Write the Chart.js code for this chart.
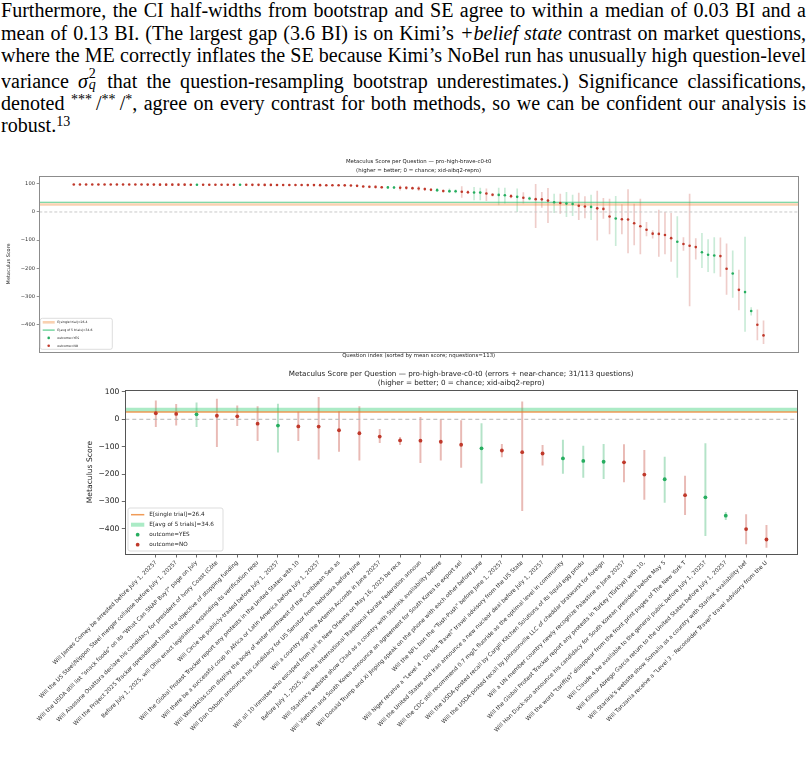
<!DOCTYPE html>
<html>
<head>
<meta charset="utf-8">
<script src="https://cdn.jsdelivr.net/npm/chart.js@4.4.1/dist/chart.umd.min.js"></script>
<style>
html, body { margin: 0; padding: 0; background: #fff; width: 807px; height: 759px; overflow: hidden; position: relative }
#para { position: absolute; left: 1px; top: -1px; width: 805px; transform-origin: 0 0;
        font-family: "Liberation Serif", "Times New Roman", serif; font-size: 20.5px; line-height: 22.5px; color: #000 }
.ln { white-space: nowrap }
.fit .ln { white-space: normal; text-align: justify; text-align-last: justify }
.fit .ln.last { text-align-last: left }
sup { font-size: 0.7em; vertical-align: 0.45em; line-height: 0 }
.sx { display: inline-block; position: relative; width: 0.5em; height: 1em }
.sx span { position: absolute; left: 0.05em; font-size: 0.7em; line-height: 1 }
.sx .up { top: -0.05em }
.sx .dn { top: 0.75em; font-style: italic }
canvas { position: absolute; left: 0 }
#c1 { top: 150px }
#c2 { top: 362px }
</style>
</head>
<body>
<div id="para">
<div class="ln">Furthermore, the CI half-widths from bootstrap and SE agree to within a median of 0.03 BI and a</div>
<div class="ln">mean of 0.13 BI. (The largest gap (3.6 BI) is on Kimi’s <i>+belief state</i> contrast on market questions,</div>
<div class="ln">where the ME correctly inflates the SE because Kimi’s NoBel run has unusually high question-level</div>
<div class="ln">variance <i>σ</i><span class="sx"><span class="up">2</span><span class="dn">q</span></span> that the question-resampling bootstrap underestimates.) Significance classifications,</div>
<div class="ln">denoted <sup>***</sup>&thinsp;/<sup>**</sup>&thinsp;/<sup>*</sup>, agree on every contrast for both methods, so we can be confident our analysis is</div>
<div class="ln last">robust.<sup>13</sup></div>
</div>
<canvas id="c1" width="807" height="214"></canvas>
<canvas id="c2" width="807" height="397"></canvas>
<script>
// mean Metaculus score per question, sorted
var meanScore =
  [ 97.8, 97.8, 97.8, 97.7, 97.7, 97.7, 97.6, 97.6, 97.6, 97.5
  , 97.5, 97.5, 97.4, 97.4, 97.3, 97.3, 97.3, 97.2, 97.2, 97.1
  , 97.1, 97.0, 97.0, 96.9, 96.9, 96.8, 96.8, 96.7, 96.7, 96.6
  , 96.5, 96.4, 96.3, 96.2, 96.1, 96.0, 95.9, 95.8, 95.7, 95.6
  , 95.5, 95.3, 95.1, 94.9, 94.7, 94.4, 93.0, 90.7, 89.5, 89.2
  , 87.8, 87.4, 87.2, 86.2, 85.9, 84.8, 83.5, 81.4, 79.2, 77.6
  , 74.4, 74.1, 73.8, 71.8, 70.4, 69.3, 69.0, 65.6, 61.2, 60.8
  , 59.6, 56.3, 53.8, 50.5, 48.0, 45.6, 45.0, 40.5, 34.8, 32.0
  , 29.8, 28.5, 22, 19.5, 18, 13, 11, -16, -23, -26
  , -26.5, -40, -51, -63, -77, -78, -82, -93, -106, -114
  , -120, -125, -143, -152, -155, -157, -202, -219, -277, -285
  , -352, -401, -439
  ]
// interval ends per question (null = no visible bar)
var ciLow =
  [ null, null, null, null, null, null, null, null, null, null
  , null, null, null, null, null, null, null, null, null, null
  , null, null, null, null, null, null, null, null, null, null
  , null, null, null, null, null, null, null, null, null, null
  , null, null, null, null, null, null, 91, 88, 86, 85
  , 84, 84, 83, 78, 80, 81, 76, 77, 75, 72
  , 70, 69, 68, 52, 65, 43, 43, 40, 56, 25
  , 31, 50, 1, 31, 42, -56, 16, -38, -2, -5
  , -17, -13, -27, -21, -27, -100, -23, -78, -120, -78
  , -146, -117, -149, -85, -93, -158, -149, -176, -233, -137
  , -334, -168, -198, -212, -217, -229, -293, -304, -348, -425
  , -367, -455, -468
  ]
var ciHigh =
  [ null, null, null, null, null, null, null, null, null, null
  , null, null, null, null, null, null, null, null, null, null
  , null, null, null, null, null, null, null, null, null, null
  , null, null, null, null, null, null, null, null, null, null
  , null, null, null, null, null, null, 95, 93, 92, 93
  , 91, 90, 91, 93, 91, 88, 91, 86, 83, 84
  , 79, 82, 80, 90, 76, 88, 85, 82, 66, 85
  , 85, 62, 82, 69, 54, 98, 70, 84, 64, 64
  , 70, 60, 67, 55, 60, 74, 49, 46, 56, 26
  , 80, 28, 46, -37, -66, 7, 0, -5, -16, -91
  , 64, -95, -76, -98, -91, -92, -113, -138, -207, -89
  , -340, -348, -387
  ]
// questions that resolved YES (everything else resolved NO)
var yesIdx = [20, 27, 51, 52, 59, 61, 62, 65, 66, 69, 70, 72, 74, 78, 80, 81, 84, 88, 98, 102, 103, 104, 107, 109, 110]

// first question of the "errors + near-chance" subset (31/113)
var firstShown = 82
var questions =
  [ "Will James Comey be arrested before July 1, 2025?"
  , "Will the US Steel/Nippon Steel merger collapse before July 1, 2025?"
  , "Will the USDA still list \"snack foods\" on its \"What Can SNAP Buy?\" page on July"
  , "Will Alassane Ouattara declare his candidacy for president of Ivory Coast (Côte"
  , "Will the Project 2025 Tracker spreadsheet have the objective of stopping funding"
  , "Before July 1, 2025, will Ohio enact legislation expanding its verification requ"
  , "Will Circle be publicly-traded before July 1, 2025?"
  , "Will the Global Protest Tracker report any protests in the United States with 10"
  , "Will there be a successful coup in Africa or Latin America before July 1, 2025?"
  , "Will WorldAtlas.com display the body of water northwest of the Caribbean Sea as"
  , "Will Dan Osborn announce his candidacy for US Senator from Nebraska before June"
  , "Will a country sign the Artemis Accords in June 2025?"
  , "Will all 10 inmates who escaped from jail in New Orleans on May 16, 2025 be reca"
  , "Before July 1, 2025, will the International Traditional Karate Federation announ"
  , "Will Starlink's website show Chad as a country with Starlink availability before"
  , "Will Vietnam and South Korea announce an agreement for South Korea to export sel"
  , "Will Donald Trump and Xi Jinping speak on the phone with each other before June"
  , "Will the NFL ban the \"Tush-Push\" before June 1, 2025?"
  , "Will Niger receive a \"Level 4 - Do Not Travel\" travel advisory from the US State"
  , "Will the United States and Iran announce a new nuclear deal before July 1, 2025?"
  , "Will the CDC still recommend 0.7 mg/L fluoride as the optimal level in community"
  , "Will the USDA-posted recall by Cargill Kitchen Solutions of its liquid egg produ"
  , "Will the USDA-posted recall by Johnsonville LLC of cheddar bratwurst for foreign"
  , "Will a UN member country newly recognize Palestine in June 2025?"
  , "Will the Global Protest Tracker report any protests in Turkey (Türkiye) with 10,"
  , "Will Han Duck-soo announce his candidacy for South Korean president before May 5"
  , "Will the word \"tariff(s)\" disappear from the front print pages of The New York T"
  , "Will Claude 4 be available to the general public before July 1, 2025?"
  , "Will Kilmar Abrego Garcia return to the United States before July 1, 2025?"
  , "Will Starlink's website show Somalia as a country with Starlink availability bef"
  , "Will Tanzania receive a \"Level 3 - Reconsider Travel\" travel advisory from the U"
  ]

var expSingle = 26.4
  , expAvg5   = 34.6
  , yTicks    = [100, 0, -100, -200, -300, -400]

var YES = '#27ae60'
  , NO  = '#c0392b'
  , FONT = '"DejaVu Sans", sans-serif'

Chart.defaults.font.family = FONT
Chart.defaults.color = '#222'

////////////////////////////////////////////////////////////////////////////////
// Plugins
////////////////////////////////////////////////////////////////////////////////

var frame =
  { id: 'frame'
  , afterDatasetsDraw: function(chart, args, o) {
      var a = chart.chartArea, ctx = chart.ctx
      ctx.save()
      ctx.strokeStyle = o.color
      ctx.lineWidth = 1
      ctx.strokeRect(Math.round(a.left) + 0.5, Math.round(a.top) + 0.5,
        Math.round(a.right - a.left), Math.round(a.bottom - a.top))
      ctx.restore()
    }
  }

// title centred over the axes, like matplotlib
var axTitle =
  { id: 'axTitle'
  , afterDraw: function(chart, args, o) {
      var a = chart.chartArea, ctx = chart.ctx
      ctx.save()
      ctx.font = o.size + 'px ' + FONT
      ctx.fillStyle = '#222'
      ctx.textAlign = 'center'
      ctx.textBaseline = 'middle'
      o.lines.forEach(function(s, i) {
        ctx.fillText(s, (a.left + a.right) / 2, o.y + i * o.gap)
      })
      ctx.restore()
    }
  }

// legend box in the lower-left corner of the axes
var boxLegend =
  { id: 'boxLegend'
  , afterDraw: function(chart, args, o) {
      var a = chart.chartArea, ctx = chart.ctx
        , x0 = a.left + o.dx
        , y0 = a.bottom - o.dy - o.h
      ctx.save()
      ctx.beginPath()
      if (ctx.roundRect) ctx.roundRect(x0, y0, o.w, o.h, 2)
      else ctx.rect(x0, y0, o.w, o.h)
      ctx.fillStyle = 'rgba(255,255,255,0.85)'
      ctx.fill()
      ctx.strokeStyle = '#d4d4d4'
      ctx.lineWidth = 0.8
      ctx.stroke()
      ctx.font = o.size + 'px ' + FONT
      ctx.textBaseline = 'middle'
      ctx.textAlign = 'left'
      chart.data.datasets.filter(function(d) { return d.inLegend }).forEach(function(d, i) {
        var y = y0 + o.first + i * o.row
        if (d.type === 'line') {
          ctx.strokeStyle = d.borderColor
          ctx.lineWidth = d.borderWidth
          ctx.beginPath()
          ctx.moveTo(x0 + o.hx, y)
          ctx.lineTo(x0 + o.hx + o.hw, y)
          ctx.stroke()
        } else {
          ctx.fillStyle = d.backgroundColor
          ctx.beginPath()
          ctx.arc(x0 + o.hx + o.hw / 2, y, d.pointRadius, 0, Math.PI * 2)
          ctx.fill()
        }
        ctx.fillStyle = '#222'
        ctx.fillText(d.label, x0 + o.tx, y)
      })
      ctx.restore()
    }
  }

////////////////////////////////////////////////////////////////////////////////
// Helpers
////////////////////////////////////////////////////////////////////////////////

function isYes(i) { return yesIdx.indexOf(i) >= 0 }

function minusFmt(v) { return v < 0 ? '\u2212' + Math.abs(v) : String(v) }

function makeDatasets(idx, xOf, s) {
  var bars = [], barColors = [], yes = [], no = []
  idx.forEach(function(i) {
    var p = {x: xOf(i), y: meanScore[i]}
    if (isYes(i)) yes.push(p)
    else no.push(p)
    if (ciLow[i] !== null) {
      bars.push({x: xOf(i), y: [ciLow[i], ciHigh[i]]})
      barColors.push(isYes(i) ? s.yesBar : s.noBar)
    }
  })
  return (
    [ { type: 'line', label: 'E[single trial]=' + expSingle, inLegend: true
      , data: [{x: s.xMin, y: expSingle}, {x: s.xMax, y: expSingle}]
      , borderColor: s.singleColor, borderWidth: s.singleWidth, pointRadius: 0, order: 2 }
    , { type: 'line', label: 'E[avg of 5 trials]=' + expAvg5, inLegend: true
      , data: [{x: s.xMin, y: expAvg5}, {x: s.xMax, y: expAvg5}]
      , borderColor: s.avgColor, borderWidth: s.avgWidth, pointRadius: 0, order: 2 }
    , { type: 'scatter', label: 'outcome=YES', inLegend: true, data: yes
      , backgroundColor: YES, pointRadius: s.dot, pointBorderWidth: 0, order: 1 }
    , { type: 'scatter', label: 'outcome=NO', inLegend: true, data: no
      , backgroundColor: NO, pointRadius: s.dot, pointBorderWidth: 0, order: 1 }
    , { type: 'line', data: [{x: s.xMin, y: 0}, {x: s.xMax, y: 0}]
      , borderColor: s.zeroColor, borderWidth: 1, borderDash: s.dash, pointRadius: 0, order: 3 }
    , { type: 'bar', data: bars, backgroundColor: barColors, borderWidth: 0
      , barThickness: s.bar, order: 4 }
    ])
}

function setYTicks(scale) {
  scale.ticks = yTicks.map(function(v) { return {value: v} })
}

////////////////////////////////////////////////////////////////////////////////
// Text block: fit each justified line on one row
////////////////////////////////////////////////////////////////////////////////

var para = document.getElementById('para'), widest = 0
para.querySelectorAll('.ln').forEach(function(ln) {
  var r = document.createRange()
  r.selectNodeContents(ln)
  widest = Math.max(widest, r.getBoundingClientRect().width)
})
var squeeze = Math.min(1, 803 / widest)
para.style.width = (805 / squeeze) + 'px'
para.style.transform = 'scaleX(' + squeeze + ')'
para.classList.add('fit')

////////////////////////////////////////////////////////////////////////////////
// Chart 1: all 113 questions
////////////////////////////////////////////////////////////////////////////////

var allIdx = meanScore.map(function(v, i) { return i })

new Chart(document.getElementById('c1'), {
  type: 'scatter',
  data: {
    datasets: makeDatasets(allIdx, function(i) { return i },
      { xMin: -5.6, xMax: 117.6, dot: 1.3, bar: 1
      , yesBar: 'rgba(39,174,96,0.25)', noBar: 'rgba(192,57,43,0.25)'
      , singleColor: 'rgba(240,140,60,0.4)', singleWidth: 2.6
      , avgColor: 'rgba(46,190,110,0.8)', avgWidth: 1.2
      , zeroColor: '#c8c8c8', dash: [3, 2] })
  },
  options: {
    responsive: false, animation: false, devicePixelRatio: 1,
    layout: {padding: {left: 0, right: 9, top: 26, bottom: 0}},
    plugins: {
      legend: {display: false}, tooltip: {enabled: false},
      frame: {color: '#8c8c8c'},
      axTitle: {size: 5.4, y: 12, gap: 9,
        lines: ['Metaculus Score per Question \u2014 pro-high-brave-c0-t0', '(higher = better; 0 = chance; xid-aibq2-repro)']},
      boxLegend: {dx: 1, dy: 2.4, w: 72, h: 31, first: 4, row: 7.8, hx: 2.4, hw: 12, tx: 17, size: 3.1}
    },
    scales: {
      x: {
        type: 'linear', min: -5.6, max: 117.6, offset: false,
        afterFit: function(s) { s.height = 12.3 },
        grid: {display: false, offset: false}, border: {display: false},
        ticks: {display: false},
        title: {display: true, text: 'Question index (sorted by mean score; nquestions=113)',
          font: {size: 5.4}, padding: {top: 0, bottom: 4.8}, color: '#222'}
      },
      y: {
        type: 'linear', min: -497, max: 128,
        afterBuildTicks: setYTicks,
        afterFit: function(s) { s.width = 39.3 },
        grid: {display: true, drawOnChartArea: false, drawTicks: true, tickLength: 2.6, color: '#777', lineWidth: 0.8},
        border: {display: false},
        ticks: {font: {size: 5.2}, padding: 1.7, color: '#333', callback: minusFmt},
        title: {display: true, text: 'Metaculus Score', font: {size: 5}, padding: {top: 6, bottom: 0}, color: '#222'}
      }
    }
  },
  plugins: [frame, axTitle, boxLegend]
})

////////////////////////////////////////////////////////////////////////////////
// Chart 2: errors + near-chance subset
////////////////////////////////////////////////////////////////////////////////

var subIdx = allIdx.slice(firstShown)

new Chart(document.getElementById('c2'), {
  type: 'scatter',
  data: {
    datasets: makeDatasets(subIdx, function(i) { return i - firstShown },
      { xMin: -1.5, xMax: 31.5, dot: 1.9, bar: 1.3
      , yesBar: 'rgba(39,174,96,0.35)', noBar: 'rgba(192,57,43,0.35)'
      , singleColor: 'rgba(236,130,45,0.8)', singleWidth: 1.5
      , avgColor: 'rgba(46,204,113,0.4)', avgWidth: 4
      , zeroColor: '#b5b5b5', dash: [4, 3] })
  },
  options: {
    responsive: false, animation: false, devicePixelRatio: 1,
    layout: {padding: {left: 80, right: 10, top: 28, bottom: 0}},
    plugins: {
      legend: {display: false}, tooltip: {enabled: false},
      frame: {color: '#555'},
      axTitle: {size: 7.2, y: 12, gap: 9.3,
        lines: ['Metaculus Score per Question \u2014 pro-high-brave-c0-t0 (errors + near-chance; 31/113 questions)', '(higher = better; 0 = chance; xid-aibq2-repro)']},
      boxLegend: {dx: 2.7, dy: 3, w: 95, h: 43, first: 6.7, row: 10, hx: 3, hw: 13.3, tx: 21.3, size: 5.7}
    },
    scales: {
      x: {
        type: 'linear', min: -1.5, max: 31.5, offset: false,
        afterBuildTicks: function(s) { s.ticks = questions.map(function(q, i) { return {value: i} }) },
        afterFit: function(s) { s.height = 205 },
        grid: {display: true, drawOnChartArea: false, drawTicks: true, tickLength: 3.5, color: '#444', lineWidth: 0.8, offset: false},
        border: {display: false},
        ticks: {autoSkip: false, minRotation: 45, maxRotation: 45, padding: 2, font: {size: 5.7}, color: '#333',
          callback: function(v) { return questions[v] }}
      },
      y: {
        type: 'linear', min: -492, max: 107,
        afterBuildTicks: setYTicks,
        afterFit: function(s) { s.width = 45.3 },
        grid: {display: true, drawOnChartArea: false, drawTicks: true, tickLength: 3.5, color: '#444', lineWidth: 0.8},
        border: {display: false},
        ticks: {font: {size: 7.6}, padding: 2.5, color: '#222', callback: minusFmt},
        title: {display: true, text: 'Metaculus Score', font: {size: 7.6}, padding: {top: 5.4, bottom: 0}, color: '#222'}
      }
    }
  },
  plugins: [frame, axTitle, boxLegend]
})
</script>
</body>
</html>
